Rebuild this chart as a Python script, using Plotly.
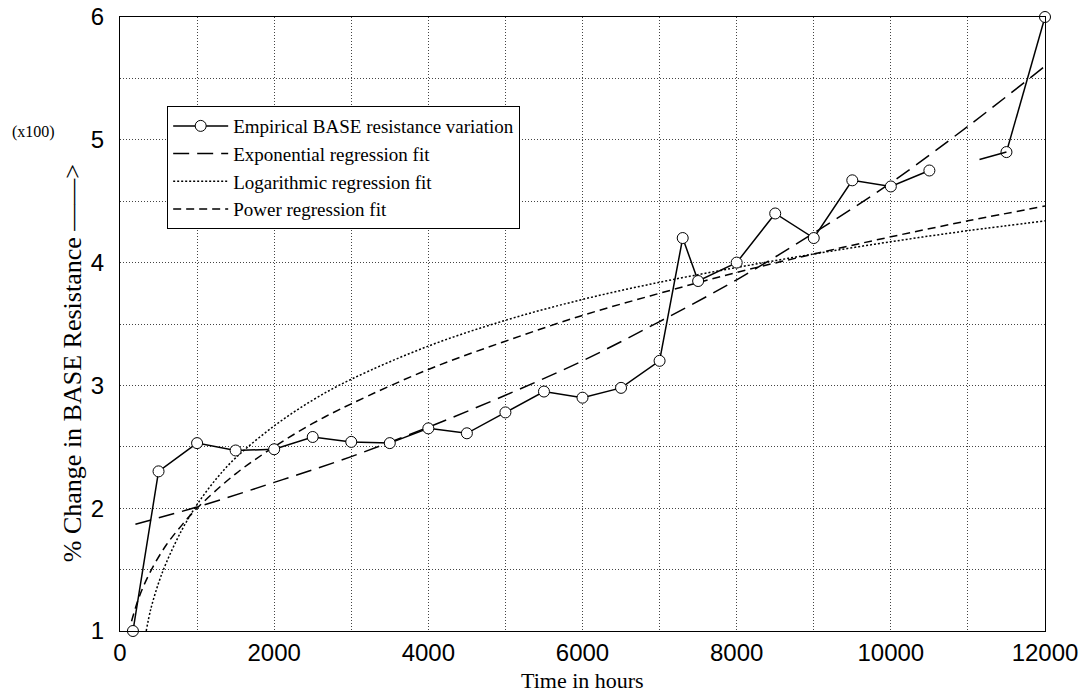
import plotly.graph_objects as go

# ---- data ----
emp_hours = [168, 500, 1000, 1500, 2000, 2500, 3000, 3500, 4000, 4500, 5000, 5500,
             6000, 6500, 7000, 7300, 7500, 8000, 8500, 9000, 9500, 10000, 10500,
             None, 11500, 12000]
emp_change = [1.0, 2.3, 2.53, 2.47, 2.48, 2.58, 2.54, 2.53, 2.65, 2.61, 2.78, 2.95,
              2.90, 2.98, 3.2, 4.2, 3.85, 4.0, 4.4, 4.2, 4.67, 4.62, 4.75,
              None, 4.9, 6.0]
emp_partial_hours = [11150, 11500]
emp_partial_change = [4.84, 4.9]

exp_hours = [200, 1000, 2000, 3000, 4000, 5000, 6000, 7000, 8000, 9000, 10000, 11000, 12000]
exp_change = [1.87, 2.01, 2.21, 2.42, 2.66, 2.92, 3.20, 3.52, 3.86, 4.24, 4.65, 5.11, 5.60]

log_hours = [340, 400, 500, 600, 800, 1000, 1250, 1500, 2000, 2500, 3000, 4000, 5000,
             6000, 7000, 8000, 9000, 10000, 11000, 12000]
log_change = [1.0, 1.18, 1.39, 1.555, 1.82, 2.03, 2.24, 2.41, 2.67, 2.88, 3.05, 3.32, 3.53,
              3.70, 3.84, 3.96, 4.07, 4.17, 4.26, 4.34]

pow_hours = [150, 250, 400, 600, 800, 1000, 1500, 2000, 2500, 3000, 4000, 5000, 6000,
             7000, 8000, 9000, 10000, 11000, 12000]
pow_change = [1.08, 1.28, 1.49, 1.70, 1.86, 2.0, 2.28, 2.50, 2.69, 2.85, 3.13, 3.36, 3.57,
              3.75, 3.92, 4.07, 4.21, 4.34, 4.46]

x_ticks = [0, 2000, 4000, 6000, 8000, 10000, 12000]
y_ticks = [1, 2, 3, 4, 5, 6]

serif = "Liberation Serif, Times New Roman, serif"
sans = "Liberation Sans, Arial, Helvetica, sans-serif"

fig = go.Figure()

fig.add_trace(go.Scatter(
    x=exp_hours, y=exp_change, mode="lines", name="Exponential regression fit",
    line=dict(color="black", width=1.5, dash="16px,8px", shape="spline"), legendrank=2,
))
fig.add_trace(go.Scatter(
    x=log_hours, y=log_change, mode="lines", name="Logarithmic regression fit",
    line=dict(color="black", width=1.5, dash="2px,2px", shape="spline"), legendrank=3,
))
fig.add_trace(go.Scatter(
    x=pow_hours, y=pow_change, mode="lines", name="Power regression fit",
    line=dict(color="black", width=1.5, dash="8px,5px", shape="spline"), legendrank=4,
))
fig.add_trace(go.Scatter(
    x=emp_hours, y=emp_change, mode="lines+markers",
    name="Empirical BASE resistance variation",
    line=dict(color="black", width=1.5),
    marker=dict(symbol="circle", size=11, color="white", line=dict(color="black", width=1)),
    connectgaps=False, cliponaxis=False, legendrank=1,
))
fig.add_trace(go.Scatter(
    x=emp_partial_hours, y=emp_partial_change, mode="lines",
    line=dict(color="black", width=1.5), showlegend=False, hoverinfo="skip",
))

fig.update_layout(
    width=1085, height=695,
    margin=dict(l=120, r=40, t=17, b=64),
    paper_bgcolor="white", plot_bgcolor="white",
    showlegend=True,
    legend=dict(
        x=0.051, y=0.855, xanchor="left", yanchor="top",
        bgcolor="white", bordercolor="black", borderwidth=1,
        font=dict(family=serif, size=19, color="black"),
        traceorder="normal", itemwidth=55,
    ),
    annotations=[
        dict(text="(x100)", xref="paper", yref="paper", x=-0.119, y=0.813,
             xanchor="left", yanchor="middle", showarrow=False,
             font=dict(family=serif, size=16, color="black")),
        dict(text="% Change in BASE Resistance \u2014\u2014>", xref="paper", yref="paper",
             x=-0.052, y=0.436, xanchor="center", yanchor="middle", textangle=-90,
             showarrow=False, font=dict(family=serif, size=26, color="black")),
        dict(text="Time in hours", xref="paper", yref="paper", x=0.5, y=-0.104,
             xanchor="center", yanchor="bottom", showarrow=False,
             font=dict(family=serif, size=22, color="black")),
    ],
)

grid_style = dict(showgrid=True, gridcolor="#444", gridwidth=1, griddash="1px,2px")

fig.update_xaxes(
    range=[0, 12000], tickvals=x_ticks, ticktext=[str(v) for v in x_ticks],
    showline=True, linecolor="black", linewidth=1, mirror=True,
    ticks="", zeroline=False,
    minor=dict(dtick=1000, tick0=0, **grid_style),
    tickfont=dict(family=sans, size=24, color="black"),
    ticklabeloverflow="allow",
    automargin=False, **grid_style,
)
fig.update_yaxes(
    range=[1, 6], tickvals=y_ticks, ticktext=[str(v) for v in y_ticks],
    showline=True, linecolor="black", linewidth=1, mirror=True,
    ticks="", zeroline=False,
    minor=dict(dtick=0.5, tick0=1, **grid_style),
    tickfont=dict(family=sans, size=24, color="black"),
    ticklabelstandoff=10, ticklabeloverflow="allow",
    automargin=False, **grid_style,
)

# remove the default 8px page margin so the figure fills the window exactly
fig.write_html("out.html", config={"displayModeBar": False},
               post_script="document.body.style.margin='0';")
